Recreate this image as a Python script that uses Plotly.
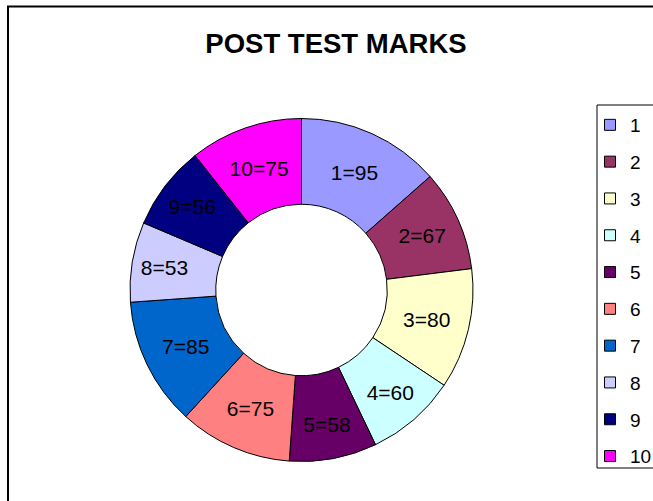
import plotly.graph_objects as go

categories = ["1", "2", "3", "4", "5", "6", "7", "8", "9", "10"]
marks = [95, 67, 80, 60, 58, 75, 85, 53, 56, 75]
colors = ["#9999FF", "#993366", "#FFFFCC", "#CCFFFF", "#660066",
          "#FF8080", "#0066CC", "#CCCCFF", "#000080", "#FF00FF"]
title_text = "POST TEST MARKS"

W, H = 653, 501
FONT = "Liberation Sans, Arial, sans-serif"

cx, cy, r = 301.5, 290.0, 171.5

fig = go.Figure()
fig.add_trace(go.Pie(
    labels=categories,
    values=marks,
    text=[f"{c}={v}" for c, v in zip(categories, marks)],
    textinfo="text",
    textposition="inside",
    insidetextorientation="horizontal",
    textfont=dict(family=FONT, size=21, color="black"),
    marker=dict(colors=colors, line=dict(color="black", width=1)),
    hole=0.5,
    sort=False,
    direction="clockwise",
    rotation=0,
    showlegend=False,
    domain=dict(x=[(cx - r) / W, (cx + r) / W],
                y=[(H - cy - r) / H, (H - cy + r) / H]),
))

for c, col in zip(categories, colors):
    fig.add_trace(go.Scatter(
        x=[None], y=[None], mode="markers", name=c,
        legendgroup=c, showlegend=True,
        marker=dict(symbol="square", size=11, color=col,
                    line=dict(color="black", width=1)),
    ))

fig.add_shape(type="rect", xref="paper", yref="paper",
              x0=8 / W, x1=1.2, y0=-0.2, y1=1 - 6.5 / H,
              line=dict(color="black", width=2), fillcolor="rgba(0,0,0,0)")
fig.add_shape(type="rect", xref="paper", yref="paper",
              x0=597 / W, x1=1.2, y0=1 - 468 / H, y1=1 - 105 / H,
              line=dict(color="black", width=1), fillcolor="rgba(0,0,0,0)")

fig.update_layout(
    width=W, height=H,
    margin=dict(l=0, r=0, t=0, b=0, autoexpand=False),
    paper_bgcolor="white", plot_bgcolor="white",
    title=dict(text=f"<b>{title_text}</b>", x=336 / W, xanchor="center",
               y=1 - 43 / H, yanchor="middle", yref="container",
               font=dict(family=FONT, size=27.5, color="black")),
    xaxis=dict(visible=False), yaxis=dict(visible=False),
    legend=dict(x=590 / W, xanchor="left", y=1 - 106 / H, yanchor="top",
                traceorder="grouped", tracegroupgap=9.1,
                font=dict(family=FONT, size=19, color="black"),
                bgcolor="rgba(0,0,0,0)", borderwidth=0),
    showlegend=True,
)

fig.write_html("out.html",
               config={"displayModeBar": False},
               post_script="document.body.style.margin='0';"
                           "document.body.style.overflow='hidden';")
